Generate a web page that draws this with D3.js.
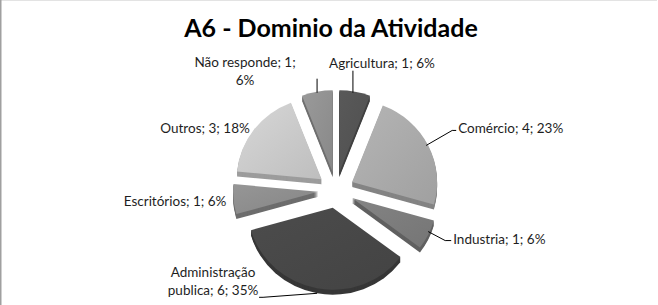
<!DOCTYPE html>
<html>
<head>
<meta charset="utf-8">
<script src="https://cdn.jsdelivr.net/npm/d3@7"></script>
<style>
  body { margin: 0; background: #fff; }
  svg { display: block; }
</style>
</head>
<body>
<div id="chart"></div>
<script>
// data
const categories = ['Agricultura', 'Comércio', 'Industria', 'Administração publica', 'Escritórios', 'Outros', 'Não responde'];
const counts = [1, 4, 1, 6, 1, 3, 1];
const percentLabels = ['6%', '23%', '6%', '35%', '6%', '18%', '6%'];
const sliceColors = ['#535353', '#a9a9a9', '#7b7b7b', '#474747', '#8c8c8c', '#c8c8c8', '#8f8f8f'];

// label layout, offsets relative to each slice's outer point
const labelLayout = {
    'Agricultura': { dx: 27, dy: -24, anchor: 'middle', firstLine: 0, leader: [[-2, 1], [-2, -21]] },
    'Comércio': { dx: 30, dy: -12, anchor: 'start', firstLine: 0, leader: [[-2, 0], [24, -15], [28, -15]] },
    'Industria': { dx: 25, dy: 9, anchor: 'start', firstLine: 0, leader: [[0, -3], [17, 6], [23, 6]] },
    'Administração publica': { dx: -104, dy: -11, anchor: 'middle', firstLine: 1, leader: [[0, 5], [-54, 9], [-58, 9]] },
    'Escritórios': { dx: -7, dy: 7, anchor: 'end', firstLine: 0, leader: null },
    'Outros': { dx: -4, dy: 3, anchor: 'end', firstLine: 0, leader: null },
    'Não responde': { dx: -72, dy: -25, anchor: 'middle', firstLine: 3, leader: [[0, 1], [0, -13]] }
};

const width = 658;
const height = 305;
const cx = 336, cy = 190;
const rx = 85, ry = 82;
const explode = 18;
const depth = 5;

const svg = d3.select('#chart').append('svg')
    .attr('width', width)
    .attr('height', height);

// chart frame
svg.append('line').attr('x1', 0).attr('x2', 657).attr('y1', 0.5).attr('y2', 0.5)
    .attr('stroke', '#e3e3e3');
svg.append('line').attr('x1', 0.75).attr('x2', 0.75).attr('y1', 0).attr('y2', height)
    .attr('stroke', '#a0a0a0').attr('stroke-width', 1.5);

svg.append('text')
    .attr('x', 331)
    .attr('y', 37)
    .attr('text-anchor', 'middle')
    .style('font-family', 'Lato, "Open Sans", sans-serif')
    .style('font-weight', 'bold')
    .style('font-size', '25px')
    .text('A6 - Dominio da Atividade');

const data = categories.map((c, i) => ({ name: c, count: counts[i], pct: percentLabels[i], color: sliceColors[i] }));

const pie = d3.pie().sort(null).value(d => d.count).startAngle(0).endAngle(2 * Math.PI);
const arcs = pie(data);
arcs.forEach(a => {
    a.mid = (a.startAngle + a.endAngle) / 2;
    a.ox = explode * Math.sin(a.mid);
    a.oy = -explode * Math.cos(a.mid);
    a.outerX = cx + (explode + rx) * Math.sin(a.mid);
    a.outerY = cy - (explode + ry) * Math.cos(a.mid);
});

const arc = d3.arc().innerRadius(0).outerRadius(rx);

const defs = svg.append('defs');
arcs.forEach((a, i) => {
    const g = defs.append('linearGradient')
        .attr('id', 'grad' + i)
        .attr('x1', '0%').attr('y1', '0%').attr('x2', '100%').attr('y2', '100%');
    g.append('stop').attr('offset', '0%').attr('stop-color', d3.color(a.data.color).brighter(0.2));
    g.append('stop').attr('offset', '100%').attr('stop-color', d3.color(a.data.color).darker(0.15));
});

// back slices first
const order = arcs.slice().sort((a, b) => a.outerY - b.outerY);

const slices = svg.selectAll('g.slice')
    .data(order)
    .enter().append('g')
    .attr('class', 'slice');

slices.each(function(d) {
    const g = d3.select(this);
    const side = d3.color(d.data.color).darker(0.7);
    for (let k = depth; k >= 1; k--) {
        g.append('path')
            .attr('transform', `translate(${cx + d.ox},${cy + d.oy + k}) scale(1,${ry / rx})`)
            .attr('d', arc(d))
            .attr('fill', side);
    }
    g.append('path')
        .attr('transform', `translate(${cx + d.ox},${cy + d.oy}) scale(1,${ry / rx})`)
        .attr('d', arc(d))
        .attr('fill', `url(#grad${arcs.indexOf(d)})`);
});

// leader lines
const line = d3.line();
arcs.forEach(a => {
    const lay = labelLayout[a.data.name];
    if (!lay.leader) return;
    svg.append('path')
        .attr('d', line(lay.leader.map(p => [a.outerX + p[0], a.outerY + p[1]])))
        .attr('fill', 'none')
        .attr('stroke', '#000')
        .attr('stroke-width', 1);
});

// labels
arcs.forEach(a => {
    const lay = labelLayout[a.data.name];
    const words = `${a.data.name}; ${a.data.count}; ${a.data.pct}`.split(' ');
    const lines = lay.firstLine ? [words.slice(0, lay.firstLine).join(' '), words.slice(lay.firstLine).join(' ')] : [words.join(' ')];
    const t = svg.append('text')
        .attr('x', a.outerX + lay.dx)
        .attr('y', a.outerY + lay.dy)
        .attr('text-anchor', lay.anchor)
        .style('font-family', 'Lato, "Open Sans", sans-serif')
        .style('font-size', '13.5px')
        .attr('fill', '#1e1e1e');
    lines.forEach((l, i) => {
        t.append('tspan')
            .attr('x', a.outerX + lay.dx)
            .attr('dy', i === 0 ? 0 : 18)
            .text(l);
    });
});
</script>
</body>
</html>
